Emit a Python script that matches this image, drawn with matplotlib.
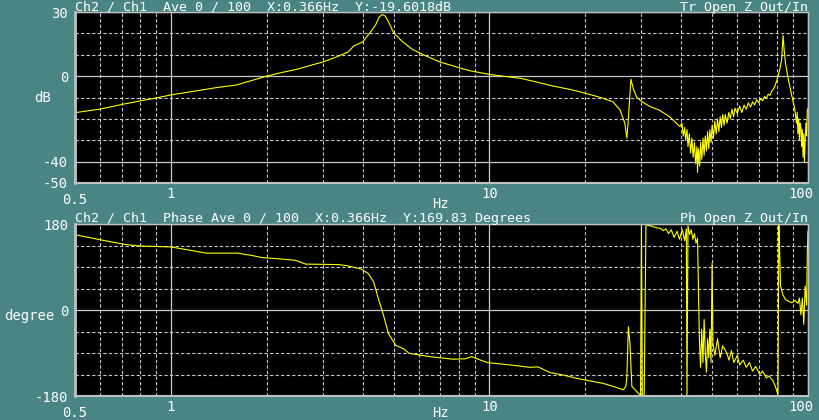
import matplotlib
matplotlib.use("Agg")
import matplotlib.pyplot as plt
from matplotlib.transforms import ScaledTranslation

# transfer function magnitude
mag_hz = [0.5, 0.6, 0.7, 0.8, 0.9, 1.0, 1.2, 1.4, 1.6, 1.8, 2.0, 2.2, 2.5, 2.8, 3.0,
          3.3, 3.6, 3.75, 4.0, 4.24, 4.39, 4.5, 4.6, 4.7, 4.8, 5.0, 5.3, 5.7, 6.3, 7.0,
          8.0, 8.7, 10, 11, 12.5, 14, 15.8, 18, 20, 22.2, 24.4, 25.7, 26.6, 27.0, 27.3,
          27.8, 28.3, 29.0, 30.5, 32, 34, 36.8, 39.6, 40.2, 40.6, 41, 41.3, 41.7, 42, 42.4,
          42.8, 43.2, 43.6, 44, 44.4, 44.8, 45, 45.3, 45.7, 46, 46.4, 46.8, 47.2, 47.6, 48,
          48.4, 48.8, 49.2, 49.6, 50, 50.5, 51, 51.5, 52, 52.5, 53, 53.5, 54, 54.5,
          55, 55.7, 56.4, 57, 57.7, 58.4, 59, 60, 61, 62, 63, 64, 65, 66, 67, 68, 69, 70,
          71, 72, 73, 74, 75, 76, 77, 78, 79, 80, 81.5, 82.7, 83.5,
          84.2, 85, 86.7, 88, 89.5, 91, 92, 92.5, 93, 93.5, 94, 94.5, 95, 95.5, 96, 96.5,
          97, 97.5, 98, 98.5, 99, 99.5, 100]
mag_db = [-17.1, -15.4, -13.3, -11.6, -10.2, -8.8, -6.9, -5.3, -4.2, -2.0, 0.0, 1.5, 3.3, 5.4, 6.6,
          8.9, 11.3, 14.1, 16.0, 20.8, 23.9, 27.5, 28.8, 28.2, 26.0, 20.3, 16.5, 12.7, 9.5, 6.6,
          4.0, 2.5, 0.8, 0.0, -1.0, -2.7, -4.6, -6.3, -8.0, -9.9, -12.0, -15.8, -22.0, -29.0, -20,
          -1.4, -6, -10.0, -12.5, -14.3, -15.8, -19.0, -23.6, -22, -28, -24, -30, -25, -33, -27,
          -36, -29, -38, -31, -41, -33, -45, -34, -42, -31, -39, -29, -37, -28, -35,
          -26, -34, -25, -31, -23, -29, -21, -27, -20, -26, -19, -24, -18, -23,
          -18, -22, -17, -20, -15.5, -19, -15, -17.5, -14, -17, -13.5, -15.5, -12.5, -14.5, -12, -13.5, -11, -12.5,
          -10.5, -11.5, -9.5, -10.5, -8.5, -9, -7, -6, -4, -1.5, 3, 8, 19,
          12, 6, -1.4, -6, -11, -16, -22, -17, -27, -20, -30, -22, -24, -33, -25, -38,
          -27, -40, -30, -22, -28, -16, -15]

# phase
ph_hz = [0.5, 0.6, 0.72, 0.8, 0.9, 1.0, 1.15, 1.29, 1.62, 1.8, 1.94, 2.2, 2.46, 2.65, 3.0,
         3.36, 3.55, 3.72, 3.95, 4.17, 4.33, 4.48, 4.65, 4.82, 5.08, 5.37, 5.6, 6.5, 7.7, 8.4,
         8.8, 9.3, 9.85, 11.6, 13.4, 14.2, 15.5, 17, 18.8, 20.5, 22.7, 24.5, 26.3, 26.8, 27.0,
         27.3, 27.6, 28.0, 29.3, 29.8, 30.0, 30.2, 30.6, 31.0, 31.5, 32.5, 33.5, 34.4, 35.1,
         35.8, 36.5, 37.2, 38.0, 38.8, 39.5, 40.3, 41.0, 41.5, 41.7, 42.0, 42.5, 43.0, 43.5,
         44.0, 44.5, 45.0, 45.3, 45.6, 46.0, 46.4, 46.8, 47.2, 47.6, 48.0, 48.4, 48.8, 49.2,
         49.6, 50.0, 50.3, 51, 52, 53, 54, 55.6, 56.5, 57.5, 58.5, 60, 61, 62.6, 64, 65.5, 67,
         68.5, 70.6, 72, 74, 75.5, 77.6, 79, 80, 80.5, 81, 81.5, 82, 83.5, 85, 87, 89, 91, 93,
         94, 95, 96, 97, 98, 99, 99.5, 100]
ph_deg = [157.6, 147, 137, 134, 133, 132, 125, 119, 119, 114, 109.5, 107, 104, 96, 95.6,
          95, 93, 90, 86, 76, 58.6, 23.7, -11, -49.6, -74, -81, -90.7, -97.7, -103, -102,
          -97.7, -104, -110, -115, -120, -119, -131, -136, -143, -148, -153.5, -160, -167, -160, -139.6,
          -35, -69, -160, -174, -179, 178, -179, -178, 179, 177, 175, 172, 171, 166,
          170, 160, 168, 152, 165, 148, 168, 145, 170, -178, 176, 158, 168, 148,
          160, 140, 150, 40, -60, -120, -40, -110, -20, -90, -130, -60, -100, -40,
          -110, 98, -70, -95, -60, -100, -75, -90, -105, -85, -110, -95, -115, -105, -120, -110, -128,
          -118, -135, -128, -142, -138, -148, -160, -172, -176, 178, 120, 50, 31, 22, 18, 15, 20, 14,
          25, -10, 25, -30, 50, 10, 120, 165]

BG = "#488583"
GRID = "#c8c8c8"
TXT = "white"
MONO = "DejaVu Sans Mono"

x_minor = [0.6, 0.7, 0.8, 0.9, 2, 3, 4, 5, 6, 7, 8, 9, 20, 30, 40, 50, 60, 70, 80, 90]


def style_axes(ax, fig, ymajor, yminor, ylim):
    ax.set_facecolor("black")
    ax.set_xscale("log")
    ax.set_xlim(0.5, 100)
    ax.set_ylim(*ylim)
    ax.set_xticks([0.5, 1, 10, 100])
    ax.set_xticklabels(["0.5", "1", "10", "100"])
    ax.set_xticks(x_minor, minor=True)
    ax.set_yticks(ymajor)
    ax.set_yticklabels([str(v) for v in ymajor])
    ax.set_yticks(yminor, minor=True)
    ax.tick_params(which="both", length=0, colors=TXT, labelsize=10)
    ax.tick_params(axis="y", pad=5)
    ax.tick_params(axis="x", pad=3)
    for lab in ax.get_xticklabels() + ax.get_yticklabels():
        lab.set_family(MONO)
    ax.grid(which="major", color=GRID, linewidth=0.9, linestyle="-")
    ax.grid(which="minor", color=GRID, linewidth=0.8, linestyle=(0, (3, 2)))
    ax.set_axisbelow(True)
    for s in ax.spines.values():
        s.set_color("#c0c0c0")
        s.set_linewidth(1)
    ax.spines["left"].set_linewidth(2)
    ax.spines["bottom"].set_linewidth(1.5)
    # nudge the edge labels the way the analyser draws them
    labs = ax.get_xticklabels()
    labs[0].set_transform(labs[0].get_transform() + ScaledTranslation(0, -4 / 72, fig.dpi_scale_trans))
    labs[-1].set_transform(labs[-1].get_transform() + ScaledTranslation(-5 / 72, 0, fig.dpi_scale_trans))


fig = plt.figure(figsize=(8.2, 4.2), dpi=100)
fig.patch.set_facecolor(BG)

ax1 = fig.add_axes([75 / 820, 1 - 183 / 420, 733 / 820, 171 / 420])
style_axes(ax1, fig, [-50, -40, 0, 30], [-30, -20, -10, 10, 20], (-50, 30))
ax1.plot(mag_hz, mag_db, color="#ffff00", linewidth=0.8)

ax2 = fig.add_axes([75 / 820, 1 - 396 / 420, 733 / 820, 172 / 420])
style_axes(ax2, fig, [-180, 0, 180], [-135, -90, -45, 45, 90, 135], (-180, 180))
ax2.plot(ph_hz, ph_deg, color="#ffff00", linewidth=0.8)

# header lines above each panel
ax1.annotate("Ch2 / Ch1  Ave 0 / 100  X:0.366Hz  Y:-19.6018dB", xy=(0, 1), xycoords="axes fraction",
             xytext=(0, 1), textcoords="offset points", va="baseline", ha="left",
             color=TXT, family=MONO, fontsize=9.6)
ax1.annotate("Tr Open Z Out/In", xy=(1, 1), xycoords="axes fraction",
             xytext=(0, 1), textcoords="offset points", va="baseline", ha="right",
             color=TXT, family=MONO, fontsize=9.6)
ax2.annotate("Ch2 / Ch1  Phase Ave 0 / 100  X:0.366Hz  Y:169.83 Degrees", xy=(0, 1), xycoords="axes fraction",
             xytext=(0, 1.5), textcoords="offset points", va="baseline", ha="left",
             color=TXT, family=MONO, fontsize=9.6)
ax2.annotate("Ph Open Z Out/In", xy=(1, 1), xycoords="axes fraction",
             xytext=(0, 1.5), textcoords="offset points", va="baseline", ha="right",
             color=TXT, family=MONO, fontsize=9.6)

# axis names
fig.text(441 / 820, 1 - 204 / 420, "Hz", color=TXT, family=MONO, fontsize=10, ha="center", va="center")
fig.text(441 / 820, 1 - 413 / 420, "Hz", color=TXT, family=MONO, fontsize=10, ha="center", va="center")
fig.text(43 / 820, 1 - 98 / 420, "dB", color=TXT, family=MONO, fontsize=10, ha="center", va="center")
fig.text(29 / 820, 1 - 316 / 420, "degree", color=TXT, family=MONO, fontsize=10, ha="center", va="center")

fig.savefig("out.png", dpi=100, facecolor=BG)
